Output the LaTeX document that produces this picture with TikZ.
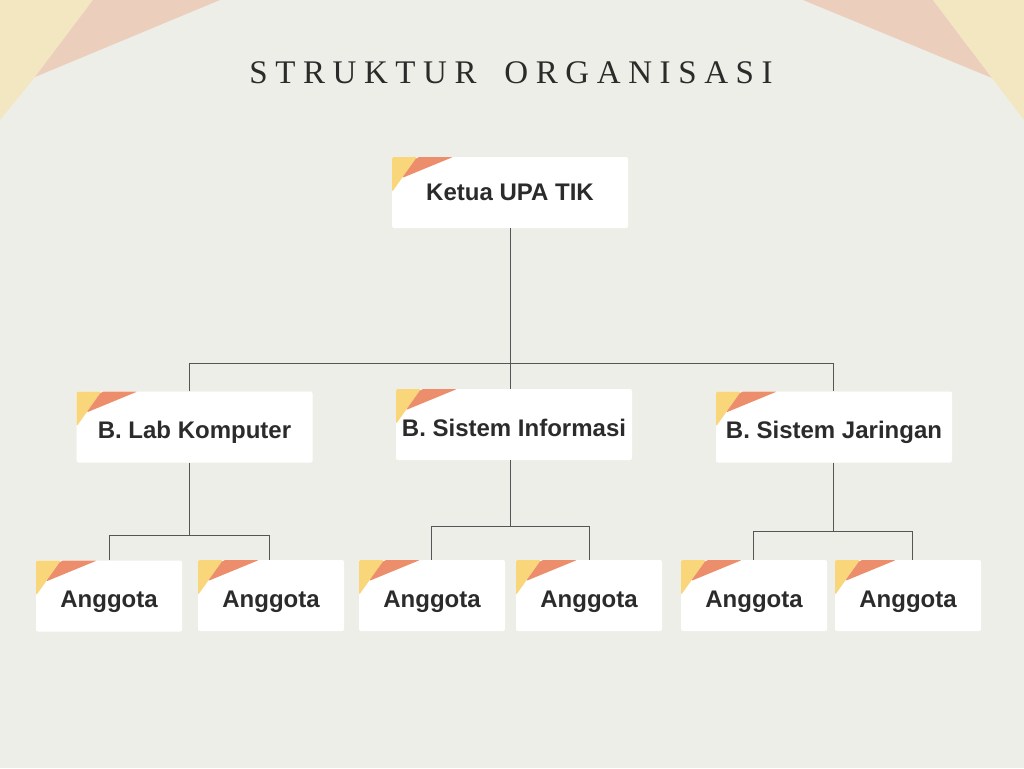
\documentclass[tikz,border=0pt]{standalone}
\usepackage{fontspec}
\setmainfont{Liberation Sans}
\newfontfamily\titlefont[LetterSpace=23]{Liberation Serif}
\newfontfamily\boxfont{Liberation Sans}
\definecolor{bg}{HTML}{EEEEE8}
\definecolor{cornerY}{HTML}{F3E7C2}
\definecolor{cornerP}{HTML}{ECCEBD}
\definecolor{tabY}{HTML}{FAD67A}
\definecolor{tabO}{HTML}{EC8E6C}
\definecolor{ink}{HTML}{2B2B2B}
\definecolor{wire}{HTML}{555555}
\tikzset{
  orgbox/.style={fill=white, rounded corners=2pt, inner sep=0pt,
    font=\boxfont\bfseries\fontsize{24}{26}\selectfont, text=ink,
    text height=16.8pt, text depth=0pt, minimum height=71pt,
    path picture={
      \fill[tabY] (path picture bounding box.north west) -- ++(25pt,0pt) -- ++(-25pt,-35pt) -- cycle;
      \fill[tabO] ([xshift=25pt]path picture bounding box.north west) -- ++(36pt,0pt) -- ++(-51pt,-21pt) -- cycle;
    }},
  bigbox/.style={orgbox, minimum width=236pt},
  smallbox/.style={orgbox, minimum width=146pt, text height=23.8pt},
  wireline/.style={draw=wire, line width=0.9pt}
}
\begin{document}
\begin{tikzpicture}[x=1pt,y=-1pt]
\fill[bg] (0,0) rectangle (1024,768);
\useasboundingbox (0,0) rectangle (1024,768);
% corner decorations
\fill[cornerY] (0,0) -- (93,0) -- (35,77) -- (0,120) -- cycle;
\fill[cornerP] (93,0) -- (220,0) -- (35,77) -- cycle;
\fill[cornerP] (803,0) -- (933,0) -- (992,78) -- cycle;
\fill[cornerY] (933,0) -- (1024,0) -- (1024,120) -- (992,78) -- cycle;
% title
\node[font=\titlefont\fontsize{33}{36}\selectfont, text=ink, inner sep=0pt] (title) at (511,73) {STRUKTUR\hspace{12pt} ORGANISASI};
% boxes
\node[bigbox] (k) at (510,192.5) {Ketua UPA TIK};
\node[bigbox, text height=22.8pt] (lab) at (194.5,427) {B. Lab Komputer};
\node[bigbox, text height=23.8pt] (si) at (514,424.5) {B. Sistem Informasi};
\node[bigbox, text height=22.8pt] (sj) at (834,427) {B. Sistem Jaringan};
\node[smallbox] (a1) at (109,596) {Anggota};
\node[smallbox] (a2) at (271,595.5) {Anggota};
\node[smallbox] (a3) at (432,595.5) {Anggota};
\node[smallbox] (a4) at (589,595.5) {Anggota};
\node[smallbox] (a5) at (754,595.5) {Anggota};
\node[smallbox] (a6) at (908,595.5) {Anggota};
% connectors
\coordinate (j0) at (510,363);
\coordinate (jl) at (189,363);
\coordinate (jr) at (833,363);
\draw[wireline] (k.south -| j0) -- (j0);
\draw[wireline] (jl |- lab.north) -- (jl) -- (jr) -- (jr |- sj.north);
\draw[wireline] (j0) -- (j0 |- si.north);
% lab
\coordinate (l0) at (189,535);
\draw[wireline] (l0 |- lab.south) -- (l0);
\draw[wireline] (a1.north) -- (a1.north |- l0) -- (269,535) -- (269,560);
% si
\coordinate (s0) at (510,526);
\draw[wireline] (s0 |- si.south) -- (s0);
\draw[wireline] (431,560) -- (431,526) -- (589,526) -- (a4.north);
% sj
\coordinate (r0) at (833,531);
\draw[wireline] (r0 |- sj.south) -- (r0);
\draw[wireline] (753,560) -- (753,531) -- (912,531) -- (912,560);
\end{tikzpicture}
\end{document}
